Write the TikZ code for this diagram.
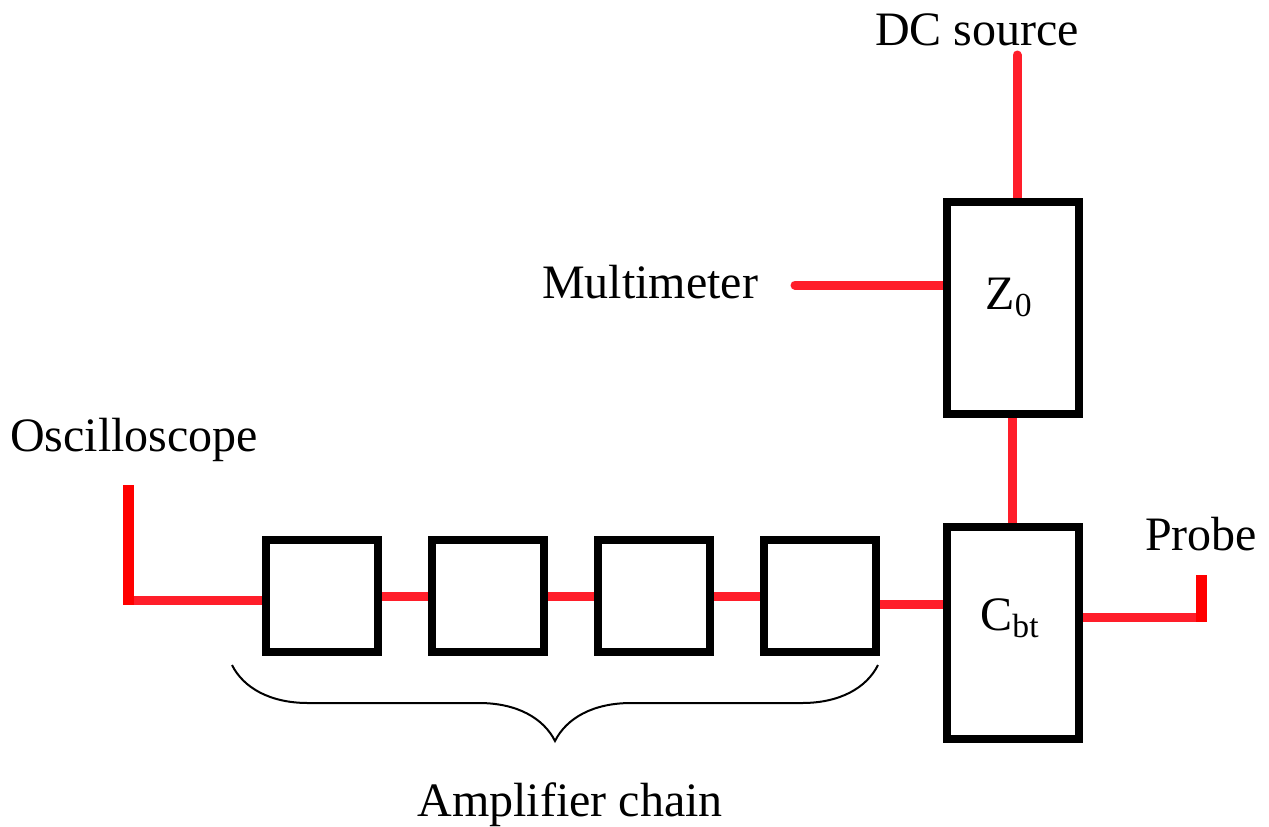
\documentclass[tikz,border=0pt]{standalone}
\usepackage{fontspec}
\setmainfont{Liberation Serif}
\usepackage{xcolor}
\definecolor{wirered}{HTML}{FF1E2A}
\definecolor{stubred}{HTML}{FF0000}
\usetikzlibrary{positioning,backgrounds,decorations.pathreplacing}

\begin{document}
\begin{tikzpicture}[x=0.5pt,y=-0.5pt,node distance=23pt,font=\fontsize{24}{28}\selectfont]
  \tikzstyle{blk}=[draw=black,line width=4pt,fill=white,inner sep=0pt]
  \tikzstyle{amp}=[blk,minimum width=56pt,minimum height=56pt]
  \tikzstyle{tall}=[blk,minimum width=66pt,minimum height=106pt]
  \tikzstyle{wire}=[draw=wirered,line width=4.5pt,line cap=round]
  \tikzstyle{stub}=[draw=stubred,line width=5.5pt]
  \tikzstyle{lbl}=[anchor=base,inner sep=0pt]
  \tikzstyle{brc}=[draw=black,line width=1pt,decorate,decoration={brace,mirror,amplitude=38pt}]

  \useasboundingbox (0,0) rectangle (1269,826);

  \node[tall] (Z) at (1012.5,308) {};
  \node[tall] (C) at (1012.5,632.5) {};
  \node[amp] (A1) at (321.5,596) {};
  \node[amp] (A2) [right=of A1] {};
  \node[amp] (A3) [right=of A2] {};
  \node[amp] (A4) [right=of A3] {};

  \node[lbl] (zt) at (1009,309) {Z\textsubscript{0}};
  \node[lbl] (ct) at (1010,630) {C\textsubscript{bt}};
  \node[lbl] (dc) at (977,45) {DC source};
  \node[lbl] (mm) at (650,298) {Multimeter};
  \node[lbl] (osc) at (134,451) {Oscilloscope};
  \node[lbl] (prb) at (1201,550) {Probe};
  \node[lbl] (chain) at (570,816) {Amplifier chain};

  \coordinate (dcend) at (1017,55);
  \coordinate (mmend) at (795,285);
  \coordinate (oscend) at (128,485);
  \coordinate (prbend) at (1201,575);
  \coordinate (bl) at (232,665);
  \coordinate (br) at (878,665);

  \begin{scope}[on background layer]
    \draw[wire] (dcend) -- (dcend |- Z.north);
    \draw[wire] (mmend) -- (mmend -| Z.west);
    \draw[wire] (Z) -- (C);
    \foreach \a/\b in {A1/A2,A2/A3,A3/A4}
      \draw[wire] (\a) -- (\b);
    \draw[wire] ([yshift=-4pt]A4.east) -- ([yshift=-4pt]A4.east -| C.west);
    \draw[wire,line cap=butt] ([yshift=-2pt]A1.west -| oscend) -- ([yshift=-2pt]A1.west);
    \draw[stub] (oscend) -- ([yshift=-4.5pt]A1.west -| oscend);
    \draw[wire,line cap=butt] ([yshift=7.5pt]C.east) -- ([yshift=7.5pt]C.east -| prbend) ++(6,0);
    \draw[stub] (prbend) -- ([yshift=5.5pt]C.east -| prbend);
  \end{scope}

  \draw[brc] (bl) -- (br);
\end{tikzpicture}
\end{document}
